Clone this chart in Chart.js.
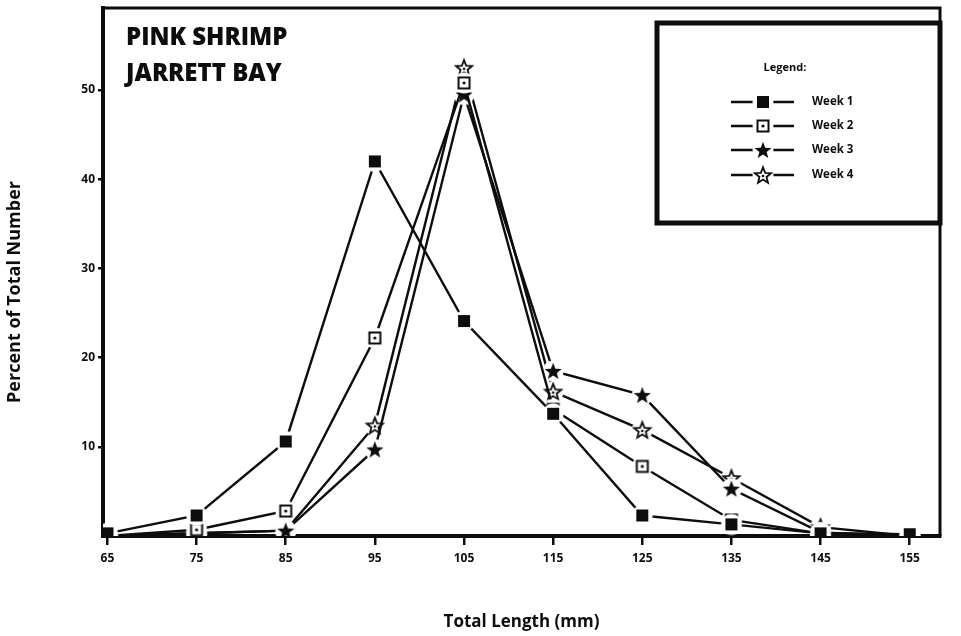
<!DOCTYPE html>
<html>
<head>
<meta charset="utf-8">
<script src="https://cdn.jsdelivr.net/npm/chart.js@4.4.0/dist/chart.umd.min.js"></script>
<style>
  html, body { margin: 0; padding: 0; background: #fff; }
  #wrap { width: 961px; height: 636px; }
</style>
</head>
<body>
<div id="wrap"><canvas id="myChart" width="961" height="636"></canvas></div>
<script>
// total length classes (mm)
var lengths = [65, 75, 85, 95, 105, 115, 125, 135, 145, 155]
var week1 = [0.3, 2.3, 10.6, 42.0, 24.1, 13.7, 2.3, 1.3, 0.3, 0.2]
var week2 = [0.0, 0.7, 2.8, 22.2, 50.8, 14.2, 7.8, 1.8, 0.3, 0.0]
var week3 = [0.0, 0.3, 0.6, 9.7, 49.5, 18.5, 15.8, 5.3, 0.4, 0.0]
var week4 = [0.0, 0.3, 0.6, 12.4, 52.5, 16.2, 11.9, 6.5, 1.0, 0.0]
var yTicks = [10, 20, 30, 40, 50]
var weekNames = ['Week 1', 'Week 2', 'Week 3', 'Week 4']

var INK = '#0d0d0d'
var FONT = '"Open Sans", "DejaVu Sans", sans-serif'

function starPath(ctx, cx, cy, ro, ri) {
    ctx.beginPath();
    for (var i = 0; i < 10; i++) {
        var r = (i % 2 == 0) ? ro : ri;
        var a = -Math.PI / 2 + i * Math.PI / 5;
        var px = cx + r * Math.cos(a), py = cy + r * Math.sin(a);
        if (i == 0) ctx.moveTo(px, py); else ctx.lineTo(px, py);
    }
    ctx.closePath();
}

// marker images with a white halo so the lines stop short of the symbol
function marcador(tipo) {
    var c = document.createElement('canvas');
    c.width = 24; c.height = 24;
    var ctx = c.getContext('2d');
    var m = 12;
    ctx.fillStyle = '#fff';
    ctx.beginPath(); ctx.arc(m, m, 10.5, 0, Math.PI * 2); ctx.fill();
    ctx.fillStyle = INK; ctx.strokeStyle = INK;
    if (tipo == 0) {
        ctx.fillRect(m - 6, m - 6, 12, 12);
    } else if (tipo == 1) {
        ctx.lineWidth = 2;
        ctx.strokeRect(m - 5.5, m - 5.5, 11, 11);
        ctx.beginPath(); ctx.arc(m, m, 1.6, 0, Math.PI * 2); ctx.fill();
    } else if (tipo == 2) {
        starPath(ctx, m, m + 0.8, 9, 3.8); ctx.fill();
    } else {
        ctx.lineWidth = 1.8;
        starPath(ctx, m, m + 0.8, 8.5, 3.7); ctx.stroke();
        ctx.beginPath(); ctx.arc(m, m + 1, 1.3, 0, Math.PI * 2); ctx.fill();
    }
    return c;
}
var marcas = [marcador(0), marcador(1), marcador(2), marcador(3)]

function serie(nombre, datos, k) {
    return {
        label: nombre,
        data: lengths.map(function (x, i) { return { x: x, y: datos[i] }; }),
        borderColor: INK,
        backgroundColor: INK,
        borderWidth: 2.4,
        pointStyle: marcas[k],
        pointRadius: 10,
        pointHoverRadius: 10,
        tension: 0,
        fill: false,
        order: k + 1
    };
}

const decoracion = {
    id: 'decoracion',
    afterDraw: function (chart) {
        var ctx = chart.ctx;
        var a = chart.chartArea;
        ctx.save();
        // frame: top and right
        ctx.strokeStyle = INK;
        ctx.lineWidth = 3;
        ctx.beginPath();
        ctx.moveTo(a.left, a.top);
        ctx.lineTo(a.right, a.top);
        ctx.lineTo(a.right, a.bottom);
        ctx.stroke();

        // title
        ctx.fillStyle = INK;
        ctx.textBaseline = 'middle';
        ctx.textAlign = 'left';
        ctx.font = '800 24px ' + FONT;
        ctx.fillText('PINK SHRIMP', 126, 38);
        ctx.fillText('JARRETT BAY', 126, 74);

        // y axis title
        ctx.save();
        ctx.translate(15, 292);
        ctx.rotate(-Math.PI / 2);
        ctx.textAlign = 'center';
        ctx.font = 'bold 18px ' + FONT;
        ctx.fillText('Percent of Total Number', 0, 0);
        ctx.restore();

        // legend box
        ctx.fillStyle = '#fff';
        ctx.fillRect(657, 23, 283, 200);
        ctx.lineWidth = 5;
        ctx.strokeStyle = INK;
        ctx.strokeRect(657, 23, 283, 200);
        ctx.fillStyle = INK;
        ctx.font = 'bold 11px ' + FONT;
        ctx.textAlign = 'center';
        ctx.fillText('Legend:', 785, 68);
        var filas = [102, 126, 150, 175];
        ctx.textAlign = 'left';
        ctx.font = 'bold 11.5px ' + FONT;
        for (var i = 0; i < 4; i++) {
            var y = filas[i];
            ctx.lineWidth = 2.4;
            ctx.beginPath();
            ctx.moveTo(731, y); ctx.lineTo(754, y);
            ctx.moveTo(773, y); ctx.lineTo(794, y);
            ctx.stroke();
            ctx.drawImage(marcas[i], 763 - 12, y - 12);
            ctx.fillText(weekNames[i], 812, y);
        }
        ctx.restore();
    }
};

const config = {
    type: 'line',
    data: {
        datasets: [
            serie(weekNames[0], week1, 0),
            serie(weekNames[1], week2, 1),
            serie(weekNames[2], week3, 2),
            serie(weekNames[3], week4, 3)
        ]
    },
    options: {
        responsive: false,
        animation: false,
        events: [],
        layout: { autoPadding: false, padding: { left: 0, top: 8, right: 21, bottom: 0 } },
        plugins: { legend: { display: false }, tooltip: { enabled: false } },
        scales: {
            x: {
                type: 'linear',
                min: 64.5,
                max: 158.4,
                afterBuildTicks: function (s) { s.ticks = lengths.map(function (v) { return { value: v }; }); },
                afterFit: function (s) { s.height = 100; },
                border: { display: true, color: INK, width: 4 },
                grid: { drawOnChartArea: false, drawTicks: true, tickLength: 9, tickColor: INK, lineWidth: 2.5 },
                ticks: { color: INK, padding: 6, maxRotation: 0, font: { family: FONT, size: 12, weight: 'bold' } },
                title: { display: true, text: 'Total Length (mm)', color: INK, padding: { top: 0, bottom: 4 }, font: { family: FONT, size: 17, weight: 'bold' } }
            },
            y: {
                min: 0,
                max: 59.2,
                afterBuildTicks: function (s) { s.ticks = yTicks.map(function (v) { return { value: v }; }); },
                afterFit: function (s) { s.width = 103; s.paddingTop = 0; },
                border: { display: true, color: INK, width: 4 },
                grid: { drawOnChartArea: false, drawTicks: true, tickLength: 5, tickColor: INK, lineWidth: 2.5 },
                ticks: { color: INK, padding: 3, font: { family: FONT, size: 12, weight: 'bold' } },
                title: { display: false }
            }
        }
    },
    plugins: [decoracion]
};

const myChart = new Chart(document.getElementById('myChart'), config);
</script>
</body>
</html>
